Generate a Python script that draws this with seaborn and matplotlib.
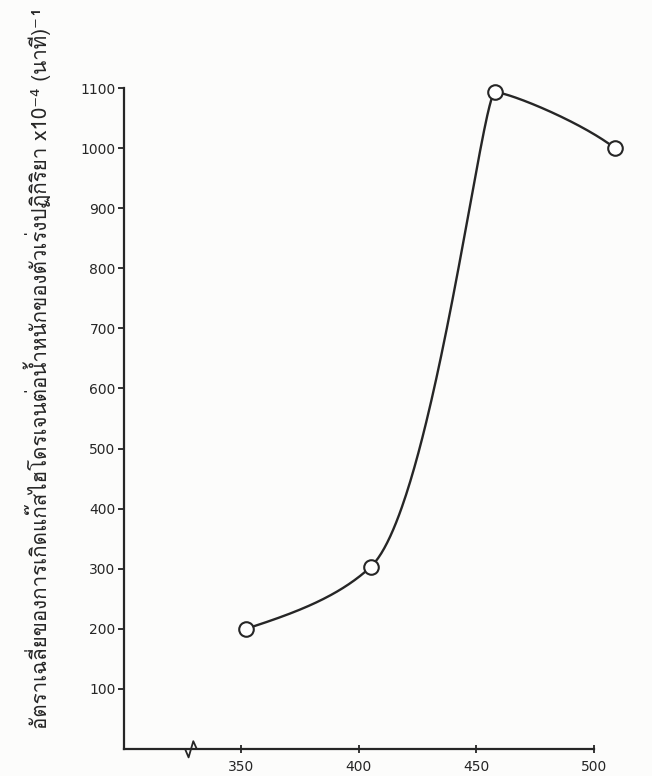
import numpy as np
import pandas as pd
import matplotlib
matplotlib.use("Agg")
import matplotlib.pyplot as plt
from matplotlib import font_manager
from matplotlib.ft2font import FT2Font
import seaborn as sns

# Reaction temperature and average gas formation rate per catalyst weight
temperature = [352, 405, 458, 509]
rate = [200, 303, 1093, 1000]
x_ticks = [350, 400, 450, 500]
y_ticks = [100, 200, 300, 400, 500, 600, 700, 800, 900, 1000, 1100]
y_label = "อัตราเฉลี่ยของการเกิดแก๊สไฮโดรเจนต่อน้ำหนักของตัวเร่งปฏิกิริยา x10⁻⁴ (นาที)⁻¹"

df = pd.DataFrame({"temperature": temperature, "rate": rate})


def thai_family():
    for f in font_manager.fontManager.ttflist:
        try:
            if 0x0E01 in FT2Font(f.fname).get_charmap():
                return f.name
        except Exception:
            continue
    return "DejaVu Sans"


sns.set_theme(style="white")
plt.rcParams["font.family"] = ["DejaVu Sans"]

ink = "#262626"
fig = plt.figure(figsize=(6.52, 7.76), dpi=100)
fig.patch.set_facecolor("#fcfcfb")
ax = fig.add_axes([124 / 652, 27 / 776, (629 - 124) / 652, (749 - 58) / 776])
ax.set_facecolor("none")
ax.set_xlim(300, 515)
ax.set_ylim(0, 1150)

for s in ["top", "right"]:
    ax.spines[s].set_visible(False)
for s in ["left", "bottom"]:
    ax.spines[s].set_color(ink)
    ax.spines[s].set_linewidth(1.6)
ax.spines["bottom"].set_bounds(300, 500)
ax.spines["left"].set_bounds(0, 1100)

ax.set_xticks(x_ticks)
ax.set_yticks(y_ticks)
ax.tick_params(axis="x", direction="inout", length=6, width=1.3, colors=ink,
               labelsize=10, pad=5)
ax.tick_params(axis="y", direction="out", length=4, width=1.3, colors=ink,
               labelsize=10, pad=2)
ax.tick_params(bottom=True, left=True)

# smooth curve through the measurements: cubic Hermite segments in display space
fig.canvas.draw()
P = ax.transData.transform(np.column_stack([temperature, rate]))
n = len(P)
steps = np.diff(P, axis=0)
chord = np.linalg.norm(steps, axis=1)
unit = steps / chord[:, None]


def norm(v):
    return v / np.linalg.norm(v)


direc = np.zeros_like(P)
mag_in = np.zeros(n)   # tangent length used by the segment ending at the point
mag_out = np.zeros(n)  # tangent length used by the segment starting at the point
for i in range(1, n - 1):
    short = min(chord[i - 1], chord[i])
    if (rate[i] - rate[i - 1]) * (rate[i + 1] - rate[i]) < 0:
        # flat, short tangent at a peak
        direc[i] = np.array([1.0, 0.0])
        mag_in[i] = mag_out[i] = 0.3 * short
    else:
        direc[i] = norm(unit[i - 1] * np.sqrt(chord[i]) + unit[i] * np.sqrt(chord[i - 1]))
        mag_in[i] = min(chord[i - 1], 1.8 * short)
        mag_out[i] = min(chord[i], 1.8 * short)
# end tangents: halfway between the end chord and the neighbour tangent mirrored on it
for end, nb, c in [(0, 1, 0), (n - 1, n - 2, n - 2)]:
    u = unit[c]
    r = 2 * np.dot(direc[nb], u) * u - direc[nb]
    direc[end] = norm(u + r)
    mag_in[end] = mag_out[end] = chord[c]

t = np.linspace(0, 1, 120)[:, None]
h00 = 2 * t**3 - 3 * t**2 + 1
h10 = t**3 - 2 * t**2 + t
h01 = -2 * t**3 + 3 * t**2
h11 = t**3 - t**2
segs = [h00 * P[i] + h10 * direc[i] * mag_out[i]
        + h01 * P[i + 1] + h11 * direc[i + 1] * mag_in[i + 1]
        for i in range(n - 1)]
curve = ax.transData.inverted().transform(np.vstack(segs))
ax.plot(curve[:, 0], curve[:, 1], color=ink, lw=1.7, clip_on=False, zorder=2)

sns.scatterplot(data=df, x="temperature", y="rate", ax=ax, s=110, marker="o",
                facecolor="white", edgecolor=ink, linewidth=1.5, zorder=3,
                clip_on=False, legend=False)

# axis break mark
ax.plot([326.0, 327.5, 329.5, 331.0], [0, -14, 13, 0], color=ink, lw=1.3,
        clip_on=False, zorder=3)

ax.set_xlabel("")
ax.set_ylabel("")
fig.text(37 / 652, 1 - 368 / 776, y_label, rotation=90, ha="center", va="center",
         fontsize=14.8, color=ink, family=[thai_family(), "DejaVu Sans"])

fig.savefig("out.png", dpi=100, facecolor=fig.get_facecolor())
